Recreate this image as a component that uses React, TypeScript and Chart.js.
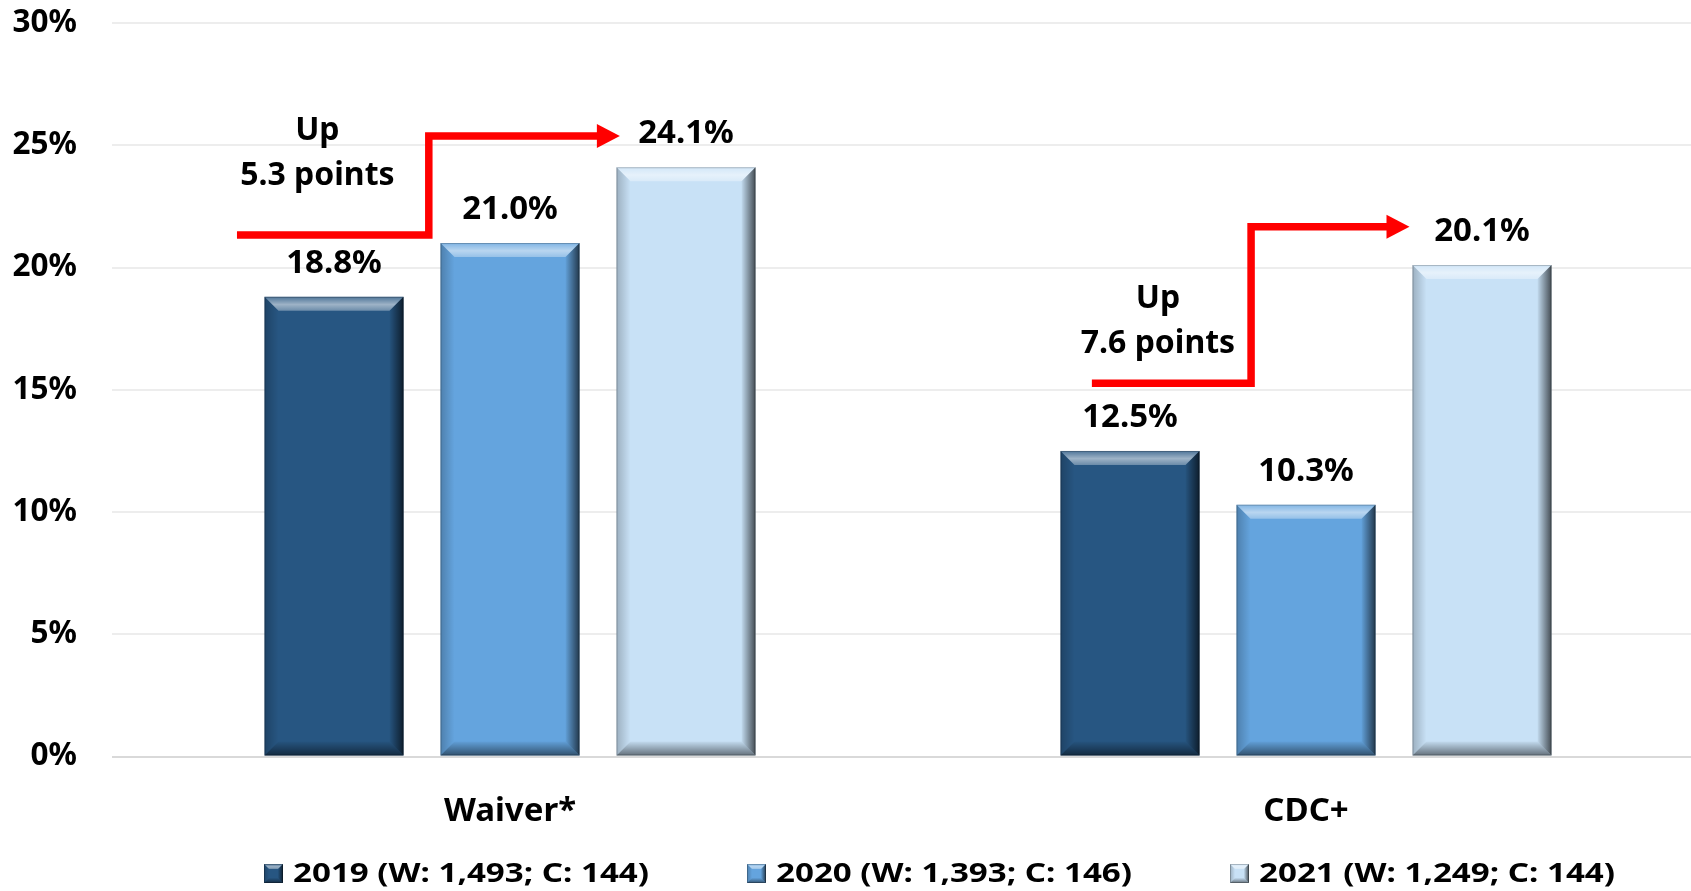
import React, { useEffect, useRef } from 'react';
import { Chart, registerables } from 'chart.js';

Chart.register(...registerables);

// ---------- data ----------
const categories = ['Waiver*', 'CDC+'];
const seriesLabels = ['2019 (W: 1,493; C: 144)', '2020 (W: 1,393; C: 146)', '2021 (W: 1,249; C: 144)'];
const values2019 = [18.8, 12.5];
const values2020 = [21.0, 10.3];
const values2021 = [24.1, 20.1];
const seriesColors = ['#275682', '#64A4DE', '#C8E1F6'];
const yMin = 0;
const yMax = 30;
const yStep = 5;

// "Up N points" step arrows: x in category-index units, y in percent
const noteTexts = [['Up', '5.3 points'], ['Up', '7.6 points']];
const arrowX = [[-0.343, -0.102, 0.138], [0.731, 0.931, 1.13]];
const arrowY = [[21.33, 25.38], [15.27, 21.67]];
const noteX = [-0.242, 0.814];
const noteY = [[25.2, 23.36], [18.34, 16.5]];

const FONT = '"Noto Sans", Lato, sans-serif';

function poly(ctx: CanvasRenderingContext2D, pts: number[][], fill: any) {
  ctx.beginPath();
  ctx.moveTo(pts[0][0], pts[0][1]);
  for (let i = 1; i < pts.length; i++) ctx.lineTo(pts[i][0], pts[i][1]);
  ctx.closePath();
  ctx.fillStyle = fill;
  ctx.fill();
}

function drawBevel(ctx: CanvasRenderingContext2D, L: number, T: number, R: number, B: number, b: number) {
  ctx.save();
  let g = ctx.createLinearGradient(0, T, 0, T + b);
  g.addColorStop(0, 'rgba(255,255,255,0.18)');
  g.addColorStop(0.55, 'rgba(255,255,255,0.55)');
  g.addColorStop(1, 'rgba(255,255,255,0.32)');
  poly(ctx, [[L, T], [R, T], [R - b, T + b], [L + b, T + b]], g);
  g = ctx.createLinearGradient(L, 0, L + b, 0);
  g.addColorStop(0, 'rgba(0,0,0,0.22)');
  g.addColorStop(1, 'rgba(0,0,0,0)');
  poly(ctx, [[L, T], [L + b, T + b], [L + b, B - b], [L, B]], g);
  g = ctx.createLinearGradient(R - b, 0, R, 0);
  g.addColorStop(0, 'rgba(0,0,0,0.03)');
  g.addColorStop(1, 'rgba(0,0,0,0.66)');
  poly(ctx, [[R, T], [R, B], [R - b, B - b], [R - b, T + b]], g);
  g = ctx.createLinearGradient(0, B - b, 0, B);
  g.addColorStop(0, 'rgba(0,0,0,0.03)');
  g.addColorStop(1, 'rgba(0,0,0,0.5)');
  poly(ctx, [[L, B], [R, B], [R - b, B - b], [L + b, B - b]], g);
  ctx.strokeStyle = 'rgba(0,0,0,0.22)';
  ctx.lineWidth = 1;
  ctx.strokeRect(L + 0.5, T + 0.5, R - L - 1, B - T - 1);
  ctx.restore();
}

const bevelPlugin = {
  id: 'bevel',
  afterDatasetsDraw(chart: any) {
    const ctx = chart.ctx;
    chart.data.datasets.forEach((ds: any, i: number) => {
      const meta = chart.getDatasetMeta(i);
      meta.data.forEach((bar: any, j: number) => {
        const p = bar.getProps(['x', 'y', 'base', 'width'], true);
        drawBevel(ctx, p.x - p.width / 2, p.y, p.x + p.width / 2, p.base, 14);
        ctx.save();
        ctx.font = `bold 33px ${FONT}`;
        ctx.fillStyle = '#000';
        ctx.textAlign = 'center';
        ctx.textBaseline = 'alphabetic';
        ctx.fillText(Number(ds.data[j]).toFixed(1) + '%', p.x, p.y - 24);
        ctx.restore();
      });
    });
  },
};

const arrowPlugin = {
  id: 'stepArrows',
  afterDraw(chart: any) {
    const ctx = chart.ctx;
    const xs = chart.scales.x;
    const ys = chart.scales.y;
    ctx.save();
    for (let k = 0; k < arrowX.length; k++) {
      const x0 = xs.getPixelForValue(arrowX[k][0]);
      const x1 = xs.getPixelForValue(arrowX[k][1]);
      const tip = xs.getPixelForValue(arrowX[k][2]);
      const yLo = ys.getPixelForValue(arrowY[k][0]);
      const yHi = ys.getPixelForValue(arrowY[k][1]);
      const headLen = 23;
      const headHalf = 12;
      ctx.strokeStyle = '#FF0000';
      ctx.fillStyle = '#FF0000';
      ctx.lineWidth = 7.5;
      ctx.lineJoin = 'miter';
      ctx.lineCap = 'butt';
      ctx.beginPath();
      ctx.moveTo(x0, yLo);
      ctx.lineTo(x1, yLo);
      ctx.lineTo(x1, yHi);
      ctx.lineTo(tip - headLen + 1, yHi);
      ctx.stroke();
      ctx.beginPath();
      ctx.moveTo(tip, yHi);
      ctx.lineTo(tip - headLen, yHi - headHalf);
      ctx.lineTo(tip - headLen, yHi + headHalf);
      ctx.closePath();
      ctx.fill();

      ctx.fillStyle = '#000';
      ctx.font = `bold 32px ${FONT}`;
      ctx.textAlign = 'center';
      ctx.textBaseline = 'alphabetic';
      const nx = xs.getPixelForValue(noteX[k]);
      ctx.fillText(noteTexts[k][0], nx, ys.getPixelForValue(noteY[k][0]));
      ctx.fillText(noteTexts[k][1], nx, ys.getPixelForValue(noteY[k][1]));
    }
    ctx.restore();
  },
};

const LEGEND_X = [264, 747, 1230];
const LEGEND_Y = 873.5;
const LEGEND_TEXT_W = 356;

const legendPlugin = {
  id: 'customLegend',
  afterDraw(chart: any) {
    const ctx = chart.ctx;
    ctx.save();
    chart.data.datasets.forEach((ds: any, i: number) => {
      const x = LEGEND_X[i];
      const s = 19;
      ctx.fillStyle = ds.backgroundColor;
      ctx.fillRect(x, LEGEND_Y - s / 2, s, s);
      drawBevel(ctx, x, LEGEND_Y - s / 2, x + s, LEGEND_Y + s / 2, 5);
      ctx.save();
      ctx.font = `bold 26px ${FONT}`;
      const w = ctx.measureText(ds.label).width;
      ctx.translate(x + s + 10, LEGEND_Y);
      ctx.scale(LEGEND_TEXT_W / w, 1);
      ctx.fillStyle = '#000';
      ctx.textAlign = 'left';
      ctx.textBaseline = 'middle';
      ctx.fillText(ds.label, 0, 1);
      ctx.restore();
    });
    ctx.restore();
  },
};

export default function App() {
  const ref = useRef<HTMLCanvasElement | null>(null);
  useEffect(() => {
    if (!ref.current) return;
    const chart = new Chart(ref.current, {
      type: 'bar',
      data: {
        labels: categories,
        datasets: [
          { label: seriesLabels[0], data: values2019, backgroundColor: seriesColors[0], borderWidth: 0 },
          { label: seriesLabels[1], data: values2020, backgroundColor: seriesColors[1], borderWidth: 0 },
          { label: seriesLabels[2], data: values2021, backgroundColor: seriesColors[2], borderWidth: 0 },
        ],
      },
      options: {
        responsive: false,
        animation: false,
        devicePixelRatio: 1,
        categoryPercentage: 0.6633,
        barPercentage: 0.79,
        layout: { padding: { top: 23, bottom: 54.5, left: 0, right: 0 } },
        plugins: { legend: { display: false }, tooltip: { enabled: false } },
        scales: {
          x: {
            grid: { display: false },
            border: { display: false },
            ticks: { padding: 27, color: '#000', font: { family: FONT, size: 33, weight: 'bold' } },
            afterFit: (s: any) => { s.height = 80; s.paddingLeft = 0; s.paddingRight = 0; },
          },
          y: {
            min: yMin,
            max: yMax,
            border: { display: false },
            grid: {
              drawTicks: false,
              lineWidth: 2,
              color: (c: any) => (c.tick && c.tick.value === 0 ? '#D9D9D9' : '#EDEDED'),
            },
            ticks: {
              stepSize: yStep,
              padding: 35,
              color: '#000',
              font: { family: FONT, size: 31.5, weight: 'bold' },
              callback: (v: any) => v + '%',
            },
            afterFit: (s: any) => { s.width = 112; s.paddingTop = 0; s.paddingBottom = 0; },
          },
        },
      },
      plugins: [bevelPlugin, arrowPlugin, legendPlugin],
    } as any);
    return () => chart.destroy();
  }, []);
  return (
    <div style={{ position: 'absolute', left: 0, top: 0, width: 1691, height: 891, overflow: 'hidden', background: '#fff' }}>
      <canvas ref={ref} width={1704} height={891} style={{ display: 'block' }} />
    </div>
  );
}
